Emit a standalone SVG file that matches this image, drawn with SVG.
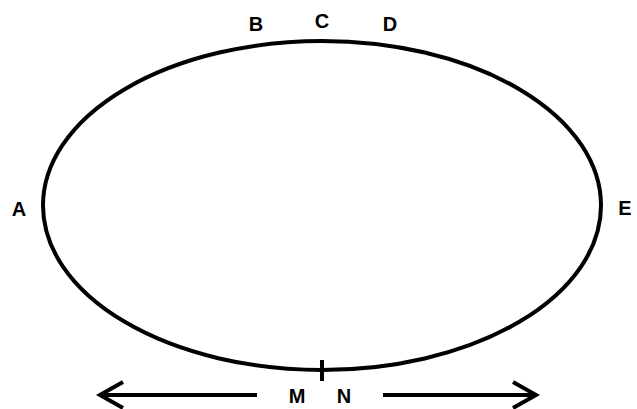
<svg xmlns="http://www.w3.org/2000/svg" width="637" height="409" viewBox="0 0 637 409">
<style>
.lbl{font-family:"Liberation Sans",Arial,sans-serif;font-weight:bold;font-size:20px;fill:#000;text-anchor:middle}
.ln{fill:none;stroke:#000;stroke-width:4;stroke-linecap:butt}
</style>
<rect width="637" height="409" fill="#fff"/>
<g id="ellipse"><ellipse cx="322" cy="205.5" rx="279" ry="164.5" class="ln"/></g>
<g id="labels">
<text class="lbl" x="256" y="31">B</text>
<text class="lbl" x="322" y="28">C</text>
<text class="lbl" x="390" y="31">D</text>
<text class="lbl" x="19" y="216">A</text>
<text class="lbl" x="625" y="215">E</text>
<text class="lbl" x="297" y="403">M</text>
<text class="lbl" x="344" y="403">N</text>
</g>
<g id="connectors">
<line class="ln" x1="322" y1="360" x2="322" y2="381"/>
<line class="ln" x1="100" y1="395" x2="257" y2="395"/>
<polyline class="ln" points="123,382 100,395 123,408"/>
<line class="ln" x1="383" y1="395" x2="535" y2="395"/>
<polyline class="ln" points="513,382 536,395 513,408"/>
</g>
</svg>
